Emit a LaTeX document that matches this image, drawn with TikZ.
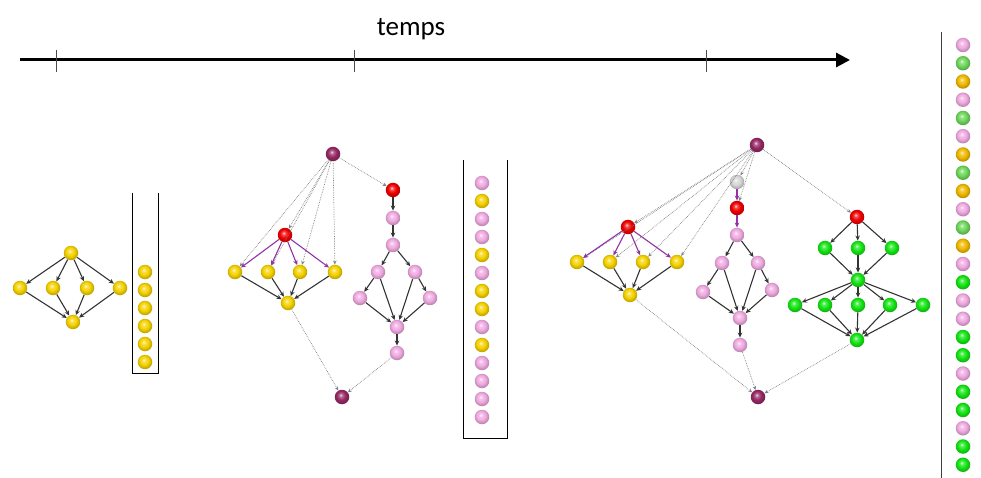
\documentclass[tikz,border=0pt]{standalone}
\usepackage{fontspec}
\setmainfont{Carlito}
\usetikzlibrary{arrows.meta}

\definecolor{ballyellow}{RGB}{245,210,0}
\definecolor{ballorange}{RGB}{240,185,0}
\definecolor{ballpink}{RGB}{240,170,225}
\definecolor{ballred}{RGB}{240,0,0}
\definecolor{ballplum}{RGB}{150,40,100}
\definecolor{ballgreen}{RGB}{20,230,20}
\definecolor{balllime}{RGB}{110,215,90}
\definecolor{ballgray}{RGB}{215,215,215}
\definecolor{linkviolet}{RGB}{145,50,165}

\makeatletter
\pgfdeclareradialshading[tikz@ball]{glassball}{\pgfqpoint{-5bp}{7bp}}{%
    color(0bp)=(tikz@ball!15!white); color(6bp)=(tikz@ball!70!white);
    color(15bp)=(tikz@ball); color(25bp)=(tikz@ball!80!black); color(50bp)=(tikz@ball!80!black)}
\makeatother

\begin{document}
\begin{tikzpicture}[
    x=1pt, y=-1pt,
    ball/.style={circle, minimum size=14.5pt, inner sep=0pt, ball color=#1, shading=glassball},
    yball/.style={ball=ballyellow},
    pball/.style={ball=ballpink},
    rball/.style={ball=ballred},
    mball/.style={ball=ballplum},
    gball/.style={ball=ballgreen},
    wball/.style={ball=ballgray},
    dep/.style={draw=black!80, line width=1.1pt, -{Stealth[length=5pt,width=4.5pt]}},
    spawn/.style={draw=linkviolet, line width=1.1pt, -{Stealth[length=5pt,width=4.5pt]}},
    sync/.style={draw=gray, densely dotted, line width=0.7pt, -{Stealth[length=4pt,width=3.5pt]}},
]
    \useasboundingbox (0,0) rectangle (981,478);

    % time axis
    \coordinate (t0) at (20,60);
    \coordinate (t1) at (850,60);
    \draw[line width=3pt, -{Triangle[length=14pt,width=14pt]}] (t0) -- (t1);
    \foreach \tx in {56, 354, 706} {
        \draw[line width=0.5pt, black!70] (\tx,50) -- (\tx,72);
    }
    \node[font=\fontsize{27}{32}\selectfont] (temps) at (411,29) {temps};

    % first graph
    \node[yball] (s0) at (71,253) {};
    \node[yball] (s1) at (20,288) {};
    \node[yball] (s2) at (53,288) {};
    \node[yball] (s3) at (87,288) {};
    \node[yball] (s4) at (120,288) {};
    \node[yball] (s5) at (73,322) {};
    \foreach \n in {s1, s2, s3, s4} {
        \draw[dep] (s0) -- (\n);
        \draw[dep] (\n) -- (s5);
    }

    % first queue
    \draw[line width=0.8pt] (132,193) -- (132,373) -- (158,373) -- (158,193);
    \foreach \i in {1,...,6} {
        \node[yball] (qa\i) at (145,{272+18*(\i-1)}) {};
    }

    % second graph
    \node[mball] (mtop) at (333,154) {};
    \node[rball] (mred) at (285,235) {};
    \node[yball] (my1) at (235,272) {};
    \node[yball] (my2) at (268,272) {};
    \node[yball] (my3) at (300,272) {};
    \node[yball] (my4) at (335,272) {};
    \node[yball] (mybot) at (288,303) {};
    \node[mball] (mend) at (342,397) {};

    \node[rball] (mr) at (393,190) {};
    \node[pball] (mp1) at (393,218) {};
    \node[pball] (mp2) at (393,245) {};
    \node[pball] (mpl) at (378,272) {};
    \node[pball] (mpr) at (415,272) {};
    \node[pball] (mpll) at (360,298) {};
    \node[pball] (mprr) at (430,298) {};
    \node[pball] (mpb) at (397,327) {};
    \node[pball] (mpe) at (397,353) {};

    \draw[sync] (mtop) -- (mred);
    \foreach \n in {my1, my2, my3, my4} {
        \draw[sync] (mtop) -- (\n);
        \draw[spawn] (mred) -- (\n);
        \draw[dep] (\n) -- (mybot);
    }
    \draw[sync] (mtop) -- (mr);
    \draw[dep] (mr) -- (mp1);
    \draw[dep] (mp1) -- (mp2);
    \draw[dep] (mp2) -- (mpl);
    \draw[dep] (mp2) -- (mpr);
    \draw[dep] (mpl) -- (mpll);
    \draw[dep] (mpr) -- (mprr);
    \foreach \n in {mpl, mpr, mpll, mprr} {
        \draw[dep] (\n) -- (mpb);
    }
    \draw[dep] (mpb) -- (mpe);
    \draw[sync] (mybot) -- (mend);
    \draw[sync] (mpe) -- (mend);

    % second queue
    \draw[line width=0.8pt] (463,160) -- (463,438) -- (507,438) -- (507,160);
    \foreach \c [count=\i] in {ballpink, ballyellow, ballpink, ballpink, ballyellow, ballpink, ballyellow,
                               ballyellow, ballpink, ballyellow, ballpink, ballpink, ballpink, ballpink} {
        \node[ball=\c] (qb\i) at (482,{183+18*(\i-1)}) {};
    }

    % third graph
    \node[mball] (rtop) at (757,145) {};
    \node[wball] (rgray) at (737,182) {};
    \node[rball] (rred) at (737,208) {};
    \node[pball] (rp1) at (737,235) {};
    \node[pball] (rpl) at (722,263) {};
    \node[pball] (rpr) at (758,263) {};
    \node[pball] (rpll) at (703,292) {};
    \node[pball] (rprr) at (772,290) {};
    \node[pball] (rpb) at (740,318) {};
    \node[pball] (rpe) at (740,345) {};

    \node[rball] (ryred) at (628,227) {};
    \node[yball] (ry1) at (577,262) {};
    \node[yball] (ry2) at (610,262) {};
    \node[yball] (ry3) at (643,262) {};
    \node[yball] (ry4) at (677,262) {};
    \node[yball] (rybot) at (630,295) {};

    \node[rball] (rgred) at (857,217) {};
    \node[gball] (rg1) at (825,248) {};
    \node[gball] (rg2) at (858,248) {};
    \node[gball] (rg3) at (892,248) {};
    \node[gball] (rgm) at (858,280) {};
    \node[gball] (rh1) at (795,305) {};
    \node[gball] (rh2) at (825,305) {};
    \node[gball] (rh3) at (858,305) {};
    \node[gball] (rh4) at (890,305) {};
    \node[gball] (rh5) at (923,305) {};
    \node[gball] (rgb) at (857,340) {};

    \node[mball] (rend) at (758,397) {};

    \draw[sync] (rtop) -- (ryred);
    \foreach \n in {ry1, ry2, ry3, ry4} {
        \draw[sync] (rtop) -- (\n);
        \draw[spawn] (ryred) -- (\n);
        \draw[dep] (\n) -- (rybot);
    }
    \draw[sync] (rtop) -- (rgray);
    \draw[sync] (rtop) -- (rred);
    \draw[sync] (rtop) -- (rgred);
    \draw[spawn] (rgray) -- (rred);
    \draw[spawn] (rred) -- (rp1);
    \draw[dep] (rp1) -- (rpl);
    \draw[dep] (rp1) -- (rpr);
    \draw[dep] (rpl) -- (rpll);
    \draw[dep] (rpr) -- (rprr);
    \foreach \n in {rpl, rpr, rpll, rprr} {
        \draw[dep] (\n) -- (rpb);
    }
    \draw[dep] (rpb) -- (rpe);

    \foreach \n in {rg1, rg2, rg3} {
        \draw[dep] (rgred) -- (\n);
        \draw[dep] (\n) -- (rgm);
    }
    \foreach \n in {rh1, rh2, rh3, rh4, rh5} {
        \draw[dep] (rgm) -- (\n);
        \draw[dep] (\n) -- (rgb);
    }

    \draw[sync] (rybot) -- (rend);
    \draw[sync] (rpe) -- (rend);
    \draw[sync] (rgb) -- (rend);

    % third queue
    \draw[line width=0.8pt, black!75] (941,32) -- (941,478);
    \foreach \c [count=\i] in {ballpink, balllime, ballorange, ballpink, balllime, ballpink, ballorange, balllime,
                               ballorange, ballpink, balllime, ballorange, ballpink, ballgreen, ballpink, ballpink,
                               ballgreen, ballgreen, ballpink, ballgreen, ballgreen, ballpink, ballgreen, ballgreen} {
        \node[ball=\c] (qc\i) at (963,{45+18.25*(\i-1)}) {};
    }

\end{tikzpicture}
\end{document}
